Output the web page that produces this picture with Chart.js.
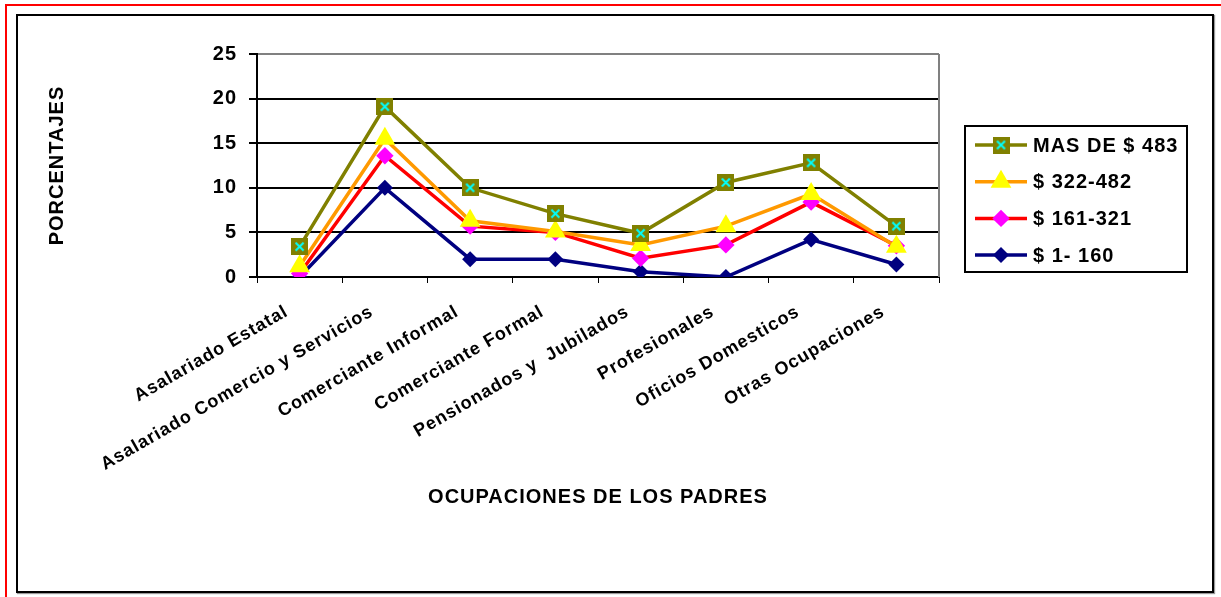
<!DOCTYPE html>
<html>
<head>
<meta charset="utf-8">
<script src="https://cdn.jsdelivr.net/npm/chart.js@4/dist/chart.umd.min.js"></script>
<style>
    body { margin: 0; background: #fff; width: 1221px; height: 597px; overflow: hidden; position: relative; }
    #redFrame { position: absolute; left: 5px; top: 4px; right: 0; bottom: 0; border-top: 2px solid #ff0000; border-left: 2px solid #ff0000; }
    #blackFrame { position: absolute; left: 16px; top: 14px; width: 1194px; height: 575px; border: 2px solid #000; box-shadow: 1px 1px 1px #999; }
    #myChart { position: absolute; left: 0; top: 0; }
</style>
</head>
<body>
<div id="redFrame"></div>
<div id="blackFrame"></div>
<canvas id="myChart" width="1221" height="597"></canvas>
<script>
const occupations = [
    'Asalariado Estatal',
    'Asalariado Comercio y Servicios',
    'Comerciante Informal',
    'Comerciante Formal',
    'Pensionados y  Jubilados',
    'Profesionales',
    'Oficios Domesticos',
    'Otras Ocupaciones'
];
const seriesNames = ['MAS DE $ 483', '$ 322-482', '$ 161-321', '$ 1- 160'];
const mas483 = [3.4, 19.1, 10.0, 7.1, 4.9, 10.6, 12.8, 5.7];
const from322 = [1.2, 15.5, 6.3, 5.1, 3.6, 5.7, 9.3, 3.4];
const from161 = [0.4, 13.6, 5.7, 5.0, 2.1, 3.6, 8.4, 3.5];
const from1 = [0.0, 10.0, 2.0, 2.0, 0.6, 0.0, 4.2, 1.4];
const yTicks = [0, 5, 10, 15, 20, 25];

const FONT = '"Liberation Sans", Arial, sans-serif';

// olive square with a cyan cross
function squareCross() {
    const c = document.createElement('canvas');
    c.width = 17;
    c.height = 17;
    const g = c.getContext('2d');
    g.fillStyle = '#808000';
    g.fillRect(0, 0, 17, 17);
    g.strokeStyle = '#00ffff';
    g.lineWidth = 2;
    g.beginPath();
    g.moveTo(4.5, 4.5); g.lineTo(12.5, 12.5);
    g.moveTo(12.5, 4.5); g.lineTo(4.5, 12.5);
    g.stroke();
    return c;
}
const sqMark = squareCross();

function drawMark(ctx, ds, x, y) {
    const style = ds.pointStyle;
    if (style instanceof HTMLCanvasElement) {
        ctx.drawImage(style, x - style.width / 2, y - style.height / 2);
        return;
    }
    const r = ds.pointRadius;
    ctx.fillStyle = ds.pointBackgroundColor;
    ctx.beginPath();
    if (style === 'triangle') {
        ctx.moveTo(x, y - r);
        ctx.lineTo(x + r * Math.sin(2 * Math.PI / 3), y - r * Math.cos(2 * Math.PI / 3));
        ctx.lineTo(x + r * Math.sin(4 * Math.PI / 3), y - r * Math.cos(4 * Math.PI / 3));
    } else {
        ctx.moveTo(x, y - r);
        ctx.lineTo(x + r, y);
        ctx.lineTo(x, y + r);
        ctx.lineTo(x - r, y);
    }
    ctx.closePath();
    ctx.fill();
}

// the original text is a little wider than Arial
function spacing(chart) {
    if ('letterSpacing' in chart.ctx) chart.ctx.letterSpacing = '1px';
}

const legendBox = {
    id: 'legendBox',
    beforeInit: spacing,
    beforeUpdate: spacing,
    beforeLayout: spacing,
    beforeDraw: spacing,
    afterDraw(chart) {
        const ctx = chart.ctx;
        ctx.save();
        // right border of the plot
        const a = chart.chartArea;
        ctx.strokeStyle = '#808080';
        ctx.lineWidth = 2;
        ctx.beginPath();
        ctx.moveTo(a.right, a.top);
        ctx.lineTo(a.right, a.bottom);
        ctx.stroke();

        ctx.strokeStyle = '#000';
        ctx.lineWidth = 2;
        ctx.strokeRect(965, 126, 222, 146);
        ctx.font = 'bold 20px ' + FONT;
        ctx.textBaseline = 'middle';
        ctx.textAlign = 'left';
        chart.data.datasets.forEach((ds, i) => {
            const y = 145 + i * 36.7;
            ctx.strokeStyle = ds.borderColor;
            ctx.lineWidth = 3.5;
            ctx.beginPath();
            ctx.moveTo(975, y);
            ctx.lineTo(1027, y);
            ctx.stroke();
            drawMark(ctx, ds, 1001, y);
            ctx.fillStyle = '#000';
            ctx.fillText(ds.label, 1033, y + 1);
        });
        ctx.restore();
    }
};

const ctx = document.getElementById('myChart').getContext('2d');
const myChart = new Chart(ctx, {
    type: 'line',
    data: {
        labels: occupations,
        datasets: [{
            label: seriesNames[0],
            data: mas483,
            borderColor: '#808000',
            pointStyle: sqMark,
            pointRadius: 9,
            borderWidth: 3.5
        }, {
            label: seriesNames[1],
            data: from322,
            borderColor: '#ff9900',
            pointBackgroundColor: '#ffff00',
            pointBorderWidth: 0,
            pointStyle: 'triangle',
            pointRadius: 12,
            borderWidth: 3.5
        }, {
            label: seriesNames[2],
            data: from161,
            borderColor: '#ff0000',
            pointBackgroundColor: '#ff00ff',
            pointBorderWidth: 0,
            pointStyle: 'rectRot',
            pointRadius: 8.7,
            borderWidth: 3.5
        }, {
            label: seriesNames[3],
            data: from1,
            borderColor: '#000080',
            pointBackgroundColor: '#000080',
            pointBorderWidth: 0,
            pointStyle: 'rectRot',
            pointRadius: 8,
            borderWidth: 3.5
        }]
    },
    options: {
        responsive: false,
        animation: false,
        events: [],
        layout: {
            padding: { left: 0, top: 54, right: 282, bottom: 80 }
        },
        plugins: {
            legend: { display: false },
            tooltip: { enabled: false }
        },
        scales: {
            x: {
                offset: true,
                afterFit: (s) => { s.height = 240; },
                grid: {
                    offset: true,
                    drawOnChartArea: false,
                    tickLength: 6,
                    color: '#000',
                    lineWidth: 1
                },
                border: { color: '#000', width: 2 },
                ticks: {
                    color: '#000',
                    minRotation: 30,
                    maxRotation: 30,
                    autoSkip: false,
                    padding: 18,
                    labelOffset: -13,
                    font: { family: FONT, size: 18, weight: 'bold' }
                },
                title: {
                    display: true,
                    text: 'OCUPACIONES DE LOS PADRES',
                    color: '#000',
                    padding: { top: 0, bottom: 8 },
                    font: { family: FONT, size: 20, weight: 'bold' }
                }
            },
            y: {
                min: 0,
                max: 25,
                afterFit: (s) => { s.width = 257; },
                afterBuildTicks: (s) => { s.ticks = yTicks.map(v => ({ value: v })); },
                grid: {
                    color: (c) => (c.tick && c.tick.value === 25 ? '#808080' : '#000'),
                    tickColor: '#000',
                    tickLength: 8,
                    lineWidth: 2
                },
                border: { color: '#000', width: 2 },
                ticks: {
                    color: '#000',
                    padding: 12,
                    font: { family: FONT, size: 20, weight: 'bold' }
                },
                title: {
                    display: true,
                    text: 'PORCENTAJES',
                    color: '#000',
                    padding: { top: 45, bottom: 0 },
                    font: { family: FONT, size: 20, weight: 'bold' }
                }
            }
        }
    },
    plugins: [legendBox]
});
</script>
</body>
</html>
